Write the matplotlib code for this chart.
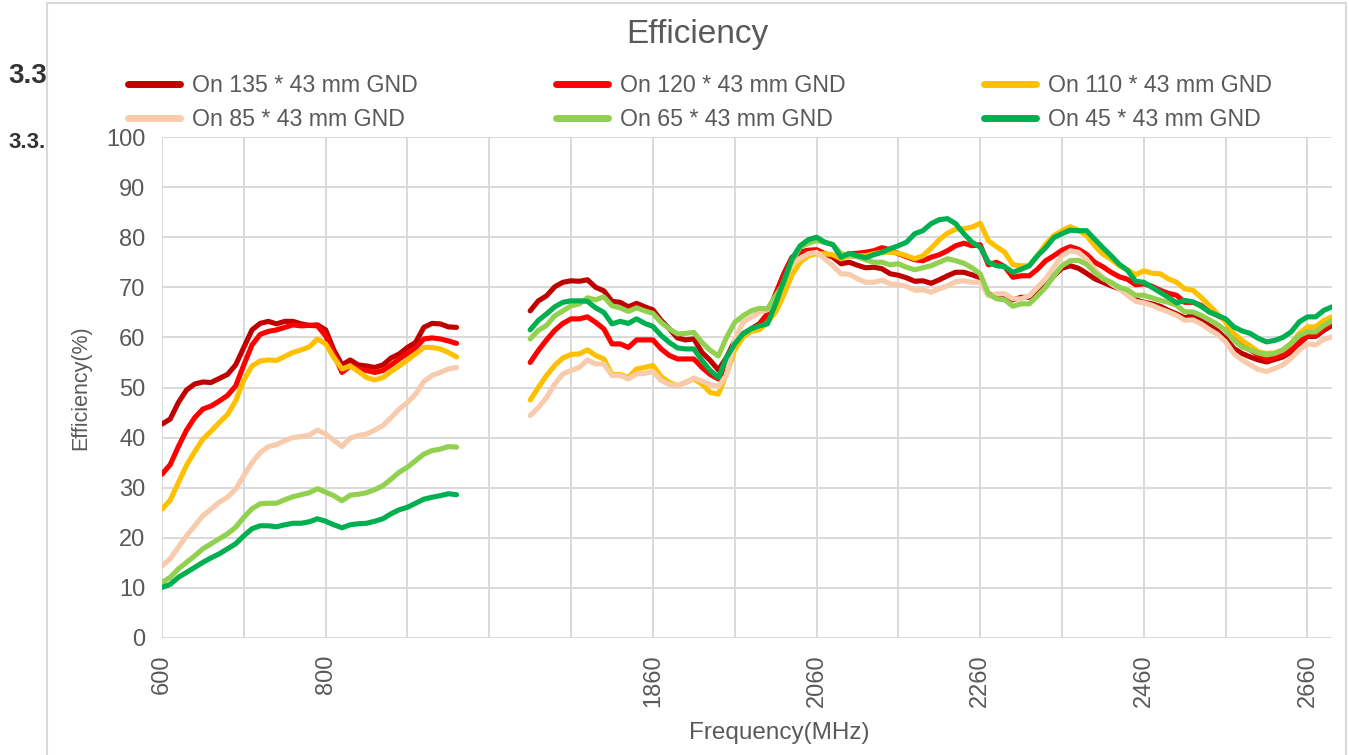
import numpy as np
import matplotlib
matplotlib.use("Agg")
import matplotlib.pyplot as plt
from matplotlib.patches import Rectangle

plt.rcParams['font.family'] = ['Liberation Sans', 'DejaVu Sans']

# ---- categories (MHz) ----
freq_low = list(range(600, 961, 10))      # 37 points
n_blank = 8
freq_high = list(range(1710, 2691, 10))   # 99 points
categories = [str(f) for f in freq_low] + [''] * n_blank + [str(f) for f in freq_high]

series_names = ["On 135 * 43 mm GND", "On 120 * 43 mm GND", "On 110 * 43 mm GND",
                "On 85 * 43 mm GND", "On 65 * 43 mm GND", "On 45 * 43 mm GND"]
series_colors = ["#C00000", "#FF0000", "#FFC000", "#F8CBAD", "#92D050", "#00B050"]

# ---- efficiency values (%) ----
gnd135_low = [42.7, 43.7, 47.0, 49.5, 50.7, 51.1, 51.0, 51.8, 52.6, 54.5,
              58.0, 61.5, 62.8, 63.2, 62.7, 63.2, 63.2, 62.7, 62.4, 62.5,
              61.5, 57.5, 54.5, 55.5, 54.5, 54.3, 54.0, 54.5, 55.9, 56.7,
              58.0, 59.0, 62.0, 62.8, 62.7, 62.1, 62.0]
gnd135_high = [65.3, 67.3, 68.3, 70.1, 71.0, 71.3, 71.2, 71.5, 70.0, 69.3,
               67.2, 67.0, 66.1, 66.8, 66.1, 65.5, 63.4, 61.7, 59.9, 59.5,
               59.7, 57.0, 55.4, 53.5, 56.0, 59.3, 60.7, 61.7, 62.7, 64.7,
               68.7, 72.7, 76.0, 77.0, 77.4, 77.4, 76.7, 76.0, 74.7, 75.0,
               74.4, 73.9, 74.0, 73.7, 72.7, 72.4, 71.9, 71.2, 71.3, 70.8,
               71.5, 72.3, 73.0, 73.0, 72.5, 71.9, 68.7, 68.3, 68.3, 67.5,
               68.0, 68.0, 69.0, 70.3, 72.3, 73.8, 74.3, 73.8, 72.8, 71.7,
               71.0, 70.3, 69.7, 68.8, 67.5, 67.0, 66.7, 66.2, 65.4, 64.7,
               63.9, 64.4, 63.4, 62.4, 61.3, 59.8, 57.8, 56.8, 56.1, 55.5,
               55.1, 55.6, 56.1, 57.1, 58.8, 60.2, 60.2, 61.4, 62.4]

gnd120_low = [32.7, 34.6, 38.2, 41.5, 44.0, 45.7, 46.3, 47.3, 48.4, 50.3,
              54.5, 58.5, 60.6, 61.2, 61.5, 62.0, 62.5, 62.3, 62.4, 62.3,
              60.3, 56.7, 53.0, 54.3, 53.7, 53.4, 53.0, 53.4, 54.5, 55.7,
              56.8, 57.9, 59.7, 59.9, 59.7, 59.3, 58.8]
gnd120_high = [55.0, 57.4, 59.5, 61.4, 62.8, 63.7, 63.7, 64.1, 63.0, 61.7,
               58.7, 58.7, 58.0, 59.5, 59.5, 59.5, 57.7, 56.4, 55.7, 55.7,
               55.7, 54.0, 52.6, 51.7, 54.4, 58.4, 60.5, 61.5, 62.5, 64.5,
               68.5, 72.5, 75.8, 77.0, 77.3, 77.5, 76.7, 76.3, 75.6, 76.7,
               76.8, 77.0, 77.3, 77.9, 77.5, 76.7, 76.1, 75.5, 75.3, 76.0,
               76.5, 77.3, 78.3, 78.8, 78.3, 78.5, 74.5, 75.0, 74.1, 72.0,
               72.3, 72.3, 73.6, 75.3, 76.3, 77.4, 78.1, 77.6, 76.6, 75.0,
               74.1, 73.0, 72.1, 71.6, 70.5, 70.7, 70.2, 69.4, 68.8, 68.4,
               67.0, 67.0, 66.4, 65.1, 64.4, 63.4, 60.1, 58.5, 57.5, 56.5,
               55.6, 56.0, 56.5, 57.5, 59.1, 60.4, 60.4, 61.8, 62.8]

gnd110_low = [25.7, 27.5, 31.0, 34.5, 37.2, 39.7, 41.3, 43.0, 44.6, 47.3,
              51.5, 54.3, 55.3, 55.5, 55.4, 56.2, 57.0, 57.5, 58.1, 59.7,
              58.7, 56.0, 53.7, 54.3, 53.2, 52.0, 51.5, 52.0, 53.2, 54.3,
              55.5, 56.7, 58.0, 58.0, 57.7, 57.0, 56.1]
gnd110_high = [47.5, 50.0, 52.4, 54.4, 55.9, 56.6, 56.7, 57.5, 56.4, 55.7,
               52.6, 52.6, 52.0, 53.7, 54.0, 54.4, 52.2, 51.0, 50.4, 51.0,
               51.7, 50.7, 49.0, 48.7, 52.7, 57.5, 60.0, 61.2, 61.5, 63.0,
               65.0, 68.5, 72.5, 75.0, 76.3, 76.7, 76.7, 76.5, 75.7, 76.3,
               76.3, 76.3, 76.7, 77.0, 77.0, 76.8, 76.3, 75.7, 76.3, 77.8,
               79.5, 80.8, 81.6, 81.7, 82.0, 82.8, 79.3, 78.1, 77.0, 74.5,
               74.3, 74.3, 76.3, 78.6, 80.3, 81.3, 82.1, 81.4, 80.3, 78.3,
               76.6, 75.6, 74.3, 73.5, 72.5, 73.3, 72.8, 72.7, 71.7, 71.0,
               69.7, 69.4, 68.0, 66.4, 64.7, 63.1, 60.8, 59.4, 58.3, 57.1,
               56.8, 56.9, 57.5, 58.8, 60.8, 62.1, 62.1, 63.4, 64.1]

gnd85_low = [14.4, 15.8, 18.1, 20.4, 22.4, 24.4, 25.7, 27.1, 28.1, 29.7,
             32.4, 35.0, 37.0, 38.2, 38.6, 39.4, 40.0, 40.2, 40.5, 41.5,
             40.7, 39.5, 38.2, 39.9, 40.4, 40.7, 41.5, 42.4, 44.0, 45.7,
             47.0, 48.7, 51.2, 52.4, 53.0, 53.7, 54.0]
gnd85_high = [44.4, 46.0, 48.0, 50.7, 52.7, 53.4, 54.0, 55.5, 54.7, 54.7,
              52.4, 52.4, 51.7, 52.7, 52.8, 53.2, 51.4, 50.6, 50.4, 51.0,
              51.9, 51.3, 50.6, 50.2, 52.5, 59.5, 63.0, 64.0, 65.0, 65.5,
              67.4, 71.0, 74.7, 75.8, 76.7, 77.0, 75.7, 74.3, 72.7, 72.6,
              71.7, 71.0, 71.0, 71.4, 70.7, 70.5, 70.2, 69.4, 69.5, 69.0,
              69.7, 70.3, 71.1, 71.3, 71.0, 71.0, 68.3, 68.7, 68.7, 67.7,
              67.7, 68.3, 70.0, 71.7, 74.0, 76.3, 77.3, 77.0, 75.6, 73.6,
              72.0, 70.7, 69.7, 68.4, 67.2, 66.9, 66.4, 65.7, 65.1, 64.4,
              63.4, 63.5, 62.7, 61.6, 60.6, 59.1, 56.8, 55.5, 54.5, 53.6,
              53.2, 53.8, 54.5, 55.8, 57.5, 58.7, 58.5, 59.6, 60.1]

gnd65_low = [11.1, 12.1, 13.8, 15.1, 16.4, 17.8, 18.8, 19.8, 20.8, 22.1,
             24.1, 25.8, 26.8, 26.9, 26.9, 27.6, 28.2, 28.6, 29.0, 29.8,
             29.1, 28.4, 27.4, 28.5, 28.7, 29.0, 29.6, 30.4, 31.7, 33.1,
             34.1, 35.4, 36.7, 37.4, 37.7, 38.2, 38.1]
gnd65_high = [59.7, 61.4, 62.4, 64.3, 65.3, 66.3, 66.7, 67.9, 67.5, 68.1,
              66.3, 65.9, 65.2, 65.9, 65.3, 64.8, 63.0, 61.7, 60.7, 60.8,
              61.0, 59.0, 57.4, 56.3, 60.0, 63.0, 64.3, 65.3, 65.8, 65.7,
              68.3, 70.7, 75.3, 78.0, 78.8, 79.3, 79.0, 78.5, 76.7, 76.3,
              76.1, 75.5, 75.0, 75.0, 74.5, 74.7, 74.0, 73.5, 73.9, 74.3,
              75.0, 75.7, 75.3, 74.8, 73.9, 72.7, 68.7, 67.7, 67.5, 66.2,
              66.7, 66.7, 68.3, 70.0, 72.3, 74.3, 75.3, 75.4, 74.6, 73.0,
              71.7, 71.0, 70.0, 69.5, 68.4, 68.4, 67.9, 67.4, 67.0, 66.4,
              65.1, 65.1, 64.4, 63.5, 62.6, 61.4, 59.4, 58.1, 57.5, 56.9,
              56.5, 56.8, 57.5, 58.8, 60.4, 61.1, 61.1, 62.4, 63.3]

gnd45_low = [10.1, 10.7, 12.1, 13.1, 14.1, 15.1, 16.0, 16.8, 17.8, 18.8,
             20.4, 21.8, 22.4, 22.4, 22.2, 22.6, 22.9, 22.9, 23.2, 23.8,
             23.3, 22.6, 22.0, 22.6, 22.8, 22.9, 23.3, 23.8, 24.8, 25.6,
             26.1, 26.9, 27.7, 28.1, 28.4, 28.8, 28.6]
gnd45_high = [61.5, 63.4, 64.7, 66.1, 67.0, 67.3, 67.3, 67.2, 65.9, 65.0,
              62.7, 63.2, 62.8, 63.7, 62.8, 62.2, 60.4, 59.0, 57.9, 57.7,
              57.7, 55.4, 53.4, 52.0, 56.0, 58.7, 60.7, 61.7, 62.3, 62.7,
              66.7, 71.3, 75.7, 78.3, 79.5, 80.0, 79.0, 78.5, 76.0, 76.8,
              76.3, 75.9, 76.5, 77.0, 77.7, 78.3, 79.0, 80.7, 81.3, 82.7,
              83.5, 83.7, 82.7, 80.7, 79.0, 78.0, 75.0, 74.3, 74.1, 73.0,
              73.6, 74.3, 76.3, 77.9, 79.9, 80.7, 81.4, 81.3, 81.3, 79.6,
              77.9, 76.3, 74.6, 73.4, 71.2, 71.0, 70.0, 69.0, 68.0, 66.9,
              67.4, 67.1, 66.2, 65.1, 64.4, 63.7, 62.1, 61.3, 60.8, 59.8,
              59.1, 59.4, 60.0, 61.1, 63.1, 64.1, 64.1, 65.4, 66.1]

series_low = [gnd135_low, gnd120_low, gnd110_low, gnd85_low, gnd65_low, gnd45_low]
series_high = [gnd135_high, gnd120_high, gnd110_high, gnd85_high, gnd65_high, gnd45_high]

W, H = 1349, 755
fig = plt.figure(figsize=(W / 100, H / 100), dpi=100)

TXT = "#595959"
GRID = "#D9D9D9"

# background document text partly hidden by the chart
fig.text(8 / W, 1 - 76 / H, "3.3", fontsize=20, fontweight='bold', color='#333333',
         va='center', ha='left', zorder=0.5)
fig.text(8 / W, 1 - 143 / H, "3.3.", fontsize=16, fontweight='bold', color='#333333',
         va='center', ha='left', zorder=0.5)
# chart area
fig.add_artist(Rectangle((47 / W, -0.05), (1346 - 47) / W, 1.05 - 3 / H,
                         transform=fig.transFigure, facecolor='white',
                         edgecolor=GRID, linewidth=1.5, zorder=1))

ax = fig.add_axes([162 / W, 1 - 638 / H, (1332 - 162) / W, (638 - 137) / H])
ax.set_zorder(2)

x = np.arange(len(categories))
lines = []
for name, col, lo, hi in zip(series_names, series_colors, series_low, series_high):
    y = np.array(lo + [np.nan] * n_blank + hi, dtype=float)
    ln, = ax.plot(x, y, color=col, lw=3.7, label=name,
                  solid_capstyle='round', solid_joinstyle='round')
    lines.append(ln)

ax.set_xlim(0, len(categories) - 1)
ax.set_ylim(0, 100)
ax.set_yticks(np.arange(0, 101, 10))
ticks = list(range(0, len(categories), 10))
ax.set_xticks(ticks)
ax.set_xticklabels([categories[t] if t % 20 == 0 else '' for t in ticks], rotation=90)
ax.tick_params(axis='both', length=0, labelsize=17, colors=TXT, pad=12)
ax.grid(True, color=GRID, lw=1.4)
ax.set_axisbelow(True)
for s in ax.spines.values():
    s.set_visible(False)

ax.set_ylabel("Efficiency(%)", fontsize=15.5, color=TXT)
ax.yaxis.set_label_coords((91 - 162) / 1170, 0.5)
ax.set_xlabel("Frequency(MHz)", fontsize=17.5, color=TXT)
ax.xaxis.set_label_coords((779 - 162) / 1170, (638 - 722) / 501)

fig.text(697 / W, 1 - 35 / H, "Efficiency", fontsize=24, color=TXT,
         ha='center', va='center', zorder=3)

# legend filled row by row (3 columns x 2 rows)
order = [0, 3, 1, 4, 2, 5]
leg = ax.legend([lines[i] for i in order], [series_names[i] for i in order],
                loc='center', bbox_to_anchor=((700 - 162) / 1170, (638 - 102.5) / 501),
                ncol=3, frameon=False, fontsize=16.7, handlelength=2.24,
                handletextpad=0.52, columnspacing=5.95, labelspacing=0.48,
                borderpad=0)
for t in leg.get_texts():
    t.set_color(TXT)
for l in leg.get_lines():
    l.set_linewidth(5)
    l.set_solid_capstyle('round')

fig.savefig("out.png", dpi=100)
